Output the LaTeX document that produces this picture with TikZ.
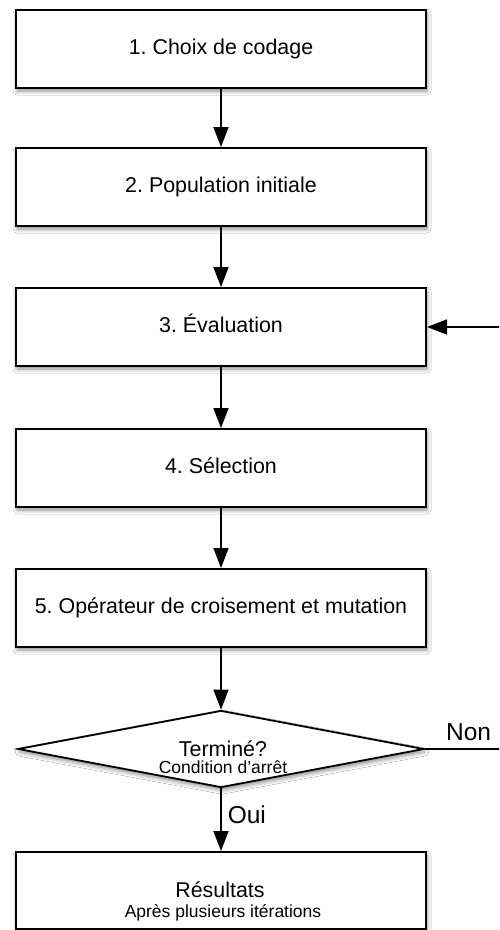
\documentclass[tikz,border=0pt]{standalone}
\usepackage{fontspec}
\setmainfont{Liberation Sans}
\usetikzlibrary{arrows.meta,shapes.geometric,shadows.blur}
\frenchspacing
\begin{document}
\frenchspacing
\begin{tikzpicture}[x=1pt,y=-1pt,
  softshadow/.style={blur shadow={shadow xshift=1pt, shadow yshift=-3pt, shadow blur radius=4pt, shadow opacity=45}},
  stepbox/.style={draw=black, line width=2pt, fill=white, rectangle,
    minimum width=410pt, minimum height=78pt, inner sep=0pt,
    font=\fontsize{21.4}{25}\selectfont, text height=15.5pt, text depth=4.5pt, softshadow},
  decision/.style={draw=black, line width=1.8pt, fill=white, diamond, aspect=5.27,
    minimum width=406pt, minimum height=77pt, inner sep=0pt, softshadow},
  bigtxt/.style={inner sep=0pt, font=\fontsize{21.4}{25}\selectfont},
  smalltxt/.style={inner sep=0pt, font=\fontsize{17.5}{20}\selectfont},
  lbltxt/.style={inner sep=0pt, font=\fontsize{24.5}{28}\selectfont},
  flow/.style={draw=black, line width=1.6pt, -{Triangle[length=20pt,width=15pt]}}
]
\useasboundingbox (0,0) rectangle (499,930);
\clip (0,0) rectangle (499,930);
\fill[white] (0,0) rectangle (499,930);

\node[stepbox] (b1) at (221,49) {1.\ Choix de codage};
\node[stepbox] (b2) at (221,187) {2.\ Population initiale};
\node[stepbox] (b3) at (221,327) {3.\ Évaluation};
\node[stepbox] (b4) at (221,468) {4.\ Sélection};
\node[stepbox] (b5) at (221,608) {5.\ Opérateur de croisement et mutation};
\node[decision] (d) at (221,749) {};
\node[bigtxt] (dt1) at (223,749) {Terminé?};
\node[smalltxt] (dt2) at (223,767) {Condition d’arrêt};
\node[stepbox, minimum height=77pt] (res) at (221,890.5) {};
\node[bigtxt] (rt1) at (220,890) {Résultats};
\node[smalltxt] (rt2) at (223,913) {Après plusieurs itérations};

\coordinate (fbturn) at (540,749);

\draw[flow] (b1) -- (b2);
\draw[flow] (b2) -- (b3);
\draw[flow] (b3) -- (b4);
\draw[flow] (b4) -- (b5);
\draw[flow] (b5) -- (d);
\draw[flow] (d.south) -- node[lbltxt, pos=0.42, anchor=west, xshift=6pt] {Oui} (res.north);
\draw[flow] (d.east) -- node[lbltxt, pos=0.38, anchor=south, yshift=7pt] {Non} (fbturn) |- (b3.east);
\end{tikzpicture}
\end{document}
